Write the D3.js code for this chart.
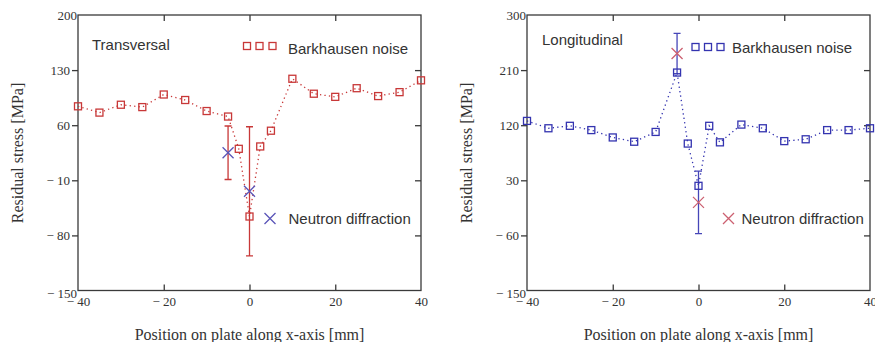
<!DOCTYPE html>
<html>
<head>
<meta charset="utf-8">
<script src="https://cdn.jsdelivr.net/npm/d3@7"></script>
<style>
  body { margin: 0; background: #fff; }
  svg { display: block; }
</style>
</head>
<body>
<div id="chart"></div>
<script>
// x positions along the plate [mm]
var positions = [-40, -35, -30, -25, -20, -15, -10, -5, -2.5, 0, 2.5, 5, 10, 15, 20, 25, 30, 35, 40];

// Barkhausen noise readings [MPa]
var transBarkhausen = [84, 76, 86, 83, 99, 92, 78, 71, 30, -56, 33, 53, 119, 100, 96, 107, 97, 102, 117];
var longBarkhausen = [127, 115, 119, 112, 100, 93, 109, 206, 90, 21, 119, 92, 121, 115, 94, 97, 112, 112, 115];

// neutron diffraction with error
var neutronX = [-5, 0];
var transNeutron = [25, -24];
var transNeutronErr = [34, 82];
var longNeutron = [237, -6];
var longNeutronErr = [33, 51];

var xTicks = [-40, -20, 0, 20, 40];
var transTicks = [-150, -80, -10, 60, 130, 200];
var longTicks = [-150, -60, 30, 120, 210, 300];

var width = 875,
    height = 342;

var svg = d3.select('#chart')
    .append('svg')
    .attr('width', width)
    .attr('height', height);

var fmt = function(d) {
    return d < 0 ? '\u2212 ' + Math.abs(d) : '' + d;
};

var panels = [{
    left: 78, right: 421,
    title: 'Transversal', titleX: 92, titleY: 49.5,
    bark: transBarkhausen, neut: transNeutron, err: transNeutronErr,
    ticks: transTicks,
    lineColor: '#c83838', crossColor: '#5a55b8', errColor: '#c83838',
    legSq: [247, 259.5, 272.5], legSqY: 46, legText: 288, legTextY: 53.5,
    legX: 270, legXY: 218.5, legXText: 288.5, legXTextY: 223.5,
    ylabelX: 17
}, {
    left: 527, right: 870,
    title: 'Longitudinal', titleX: 542, titleY: 44.5,
    bark: longBarkhausen, neut: longNeutron, err: longNeutronErr,
    ticks: longTicks,
    lineColor: '#3434b0', crossColor: '#cc6070', errColor: '#4646b8',
    legSq: [695.5, 708, 720.5], legSqY: 47, legText: 732, legTextY: 52.5,
    legX: 728.5, legXY: 218.5, legXText: 741.5, legXTextY: 223.5,
    ylabelX: 466
}];

var plotTop = 15,
    plotBottom = 290.5;

panels.forEach(function(p) {
    var x = d3.scaleLinear().domain([-40, 40]).range([p.left, p.right]);
    var y = d3.scaleLinear().domain(d3.extent(p.ticks)).range([plotBottom, plotTop]);

    var g = svg.append('g');

    // frame with ticks
    g.append('rect')
        .attr('x', p.left)
        .attr('y', plotTop)
        .attr('width', p.right - p.left)
        .attr('height', plotBottom - plotTop)
        .attr('fill', 'none')
        .attr('stroke', '#3a3a3a')
        .attr('stroke-width', 1.3);

    var inner = xTicks.slice(1, -1);
    var axB = g.append('g')
        .attr('transform', 'translate(0,' + plotBottom + ')')
        .call(d3.axisBottom(x).tickValues(xTicks).tickSize(0).tickFormat(fmt).tickPadding(6));
    axB.selectAll('line').remove();
    axB.select('.domain').remove();
    axB.selectAll('text')
        .style('font-family', '"Liberation Serif", "Times New Roman", serif')
        .style('font-size', '13px')
        .attr('fill', '#333');

    g.append('g')
        .attr('transform', 'translate(0,' + plotBottom + ')')
        .call(d3.axisBottom(x).tickValues(inner).tickSize(-6).tickFormat(''))
        .call(function(s) { s.select('.domain').remove(); })
        .selectAll('line').attr('stroke', '#3a3a3a').attr('stroke-width', 1.3);

    g.append('g')
        .attr('transform', 'translate(0,' + plotTop + ')')
        .call(d3.axisTop(x).tickValues(inner).tickSize(-6).tickFormat(''))
        .call(function(s) { s.select('.domain').remove(); })
        .selectAll('line').attr('stroke', '#3a3a3a').attr('stroke-width', 1.3);

    var innerY = p.ticks.slice(1, -1);
    g.append('g')
        .attr('transform', 'translate(' + p.left + ',0)')
        .call(d3.axisLeft(y).tickValues(innerY).tickSize(6).tickFormat(''))
        .call(function(s) { s.select('.domain').remove(); })
        .selectAll('line').attr('stroke', '#3a3a3a').attr('stroke-width', 1.3);

    g.append('g')
        .attr('transform', 'translate(' + p.right + ',0)')
        .call(d3.axisRight(y).tickValues(innerY).tickSize(-6).tickFormat(''))
        .call(function(s) { s.select('.domain').remove(); })
        .selectAll('line').attr('stroke', '#3a3a3a').attr('stroke-width', 1.3);

    var axL = g.append('g')
        .attr('transform', 'translate(' + p.left + ',0)')
        .call(d3.axisLeft(y).tickValues(p.ticks).tickSize(0).tickFormat(fmt).tickPadding(2));
    axL.select('.domain').remove();
    axL.selectAll('line').remove();
    axL.selectAll('text')
        .style('font-family', '"Liberation Serif", "Times New Roman", serif')
        .style('font-size', '13px')
        .attr('fill', '#333')
        .attr('x', function(d, i) {
            return (i === 0 || i === p.ticks.length - 1) ? -1 : -8;
        })
        .attr('dy', function(d, i) {
            return i === 0 ? '0.5em' : '0.32em';
        });

    // axis titles
    g.append('text')
        .attr('transform', 'translate(' + p.ylabelX + ',153) rotate(-90)')
        .attr('text-anchor', 'middle')
        .attr('dy', '0.35em')
        .style('font-family', '"Liberation Serif", "Times New Roman", serif')
        .style('font-size', '16px')
        .attr('fill', '#333')
        .text('Residual stress [MPa]');

    g.append('text')
        .attr('x', (p.left + p.right) / 2)
        .attr('y', 340)
        .attr('text-anchor', 'middle')
        .style('font-family', '"Liberation Serif", "Times New Roman", serif')
        .style('font-size', '16px')
        .attr('fill', '#333')
        .text('Position on plate along x-axis [mm]');

    // labels inside plot
    var sans = 'Arial, "Liberation Sans", sans-serif';
    g.append('text')
        .attr('x', p.titleX)
        .attr('y', p.titleY)
        .style('font-family', sans)
        .style('font-size', '15px')
        .attr('fill', '#333')
        .text(p.title);

    g.append('text')
        .attr('x', p.legText)
        .attr('y', p.legTextY)
        .style('font-family', sans)
        .style('font-size', '15px')
        .attr('fill', '#333')
        .text('Barkhausen noise');

    g.append('text')
        .attr('x', p.legXText)
        .attr('y', p.legXTextY)
        .style('font-family', sans)
        .style('font-size', '15px')
        .attr('fill', '#333')
        .text('Neutron diffraction');

    g.selectAll('.legsq')
        .data(p.legSq)
        .join('rect')
        .attr('class', 'legsq')
        .attr('x', d => d - 3.5)
        .attr('y', p.legSqY - 3.5)
        .attr('width', 7)
        .attr('height', 7)
        .attr('fill', 'none')
        .attr('stroke', p.lineColor)
        .attr('stroke-width', 1.3);

    var cross = function(sel, cx, cy, r) {
        sel.append('path')
            .attr('d', 'M' + (cx - r) + ',' + (cy - r) + 'L' + (cx + r) + ',' + (cy + r) +
                'M' + (cx - r) + ',' + (cy + r) + 'L' + (cx + r) + ',' + (cy - r))
            .attr('stroke', p.crossColor)
            .attr('stroke-width', 1.3)
            .attr('fill', 'none');
    };
    cross(g, p.legX, p.legXY, 5.5);

    // error bars
    neutronX.forEach(function(nx, i) {
        var cx = x(nx),
            y1 = y(p.neut[i] + p.err[i]),
            y2 = y(p.neut[i] - p.err[i]);
        g.append('path')
            .attr('d', 'M' + cx + ',' + y1 + 'V' + y2 +
                'M' + (cx - 3.5) + ',' + y1 + 'H' + (cx + 3.5) +
                'M' + (cx - 3.5) + ',' + y2 + 'H' + (cx + 3.5))
            .attr('stroke', p.errColor)
            .attr('stroke-width', 1.3)
            .attr('fill', 'none');
    });

    // barkhausen series
    var pts = positions.map(function(d, i) { return [d, p.bark[i]]; });
    var line = d3.line()
        .x(d => x(d[0]))
        .y(d => y(d[1]));

    g.append('path')
        .attr('d', line(pts))
        .attr('fill', 'none')
        .attr('stroke', p.lineColor)
        .attr('stroke-width', 1.3)
        .attr('stroke-dasharray', '1.3,3.2');

    g.selectAll('.sq')
        .data(pts)
        .join('rect')
        .attr('class', 'sq')
        .attr('x', d => x(d[0]) - 3.5)
        .attr('y', d => y(d[1]) - 3.5)
        .attr('width', 7)
        .attr('height', 7)
        .attr('fill', 'none')
        .attr('stroke', p.lineColor)
        .attr('stroke-width', 1.3);

    // neutron crosses
    neutronX.forEach(function(nx, i) {
        cross(g, x(nx), y(p.neut[i]), 5.5);
    });
});
</script>
</body>
</html>
